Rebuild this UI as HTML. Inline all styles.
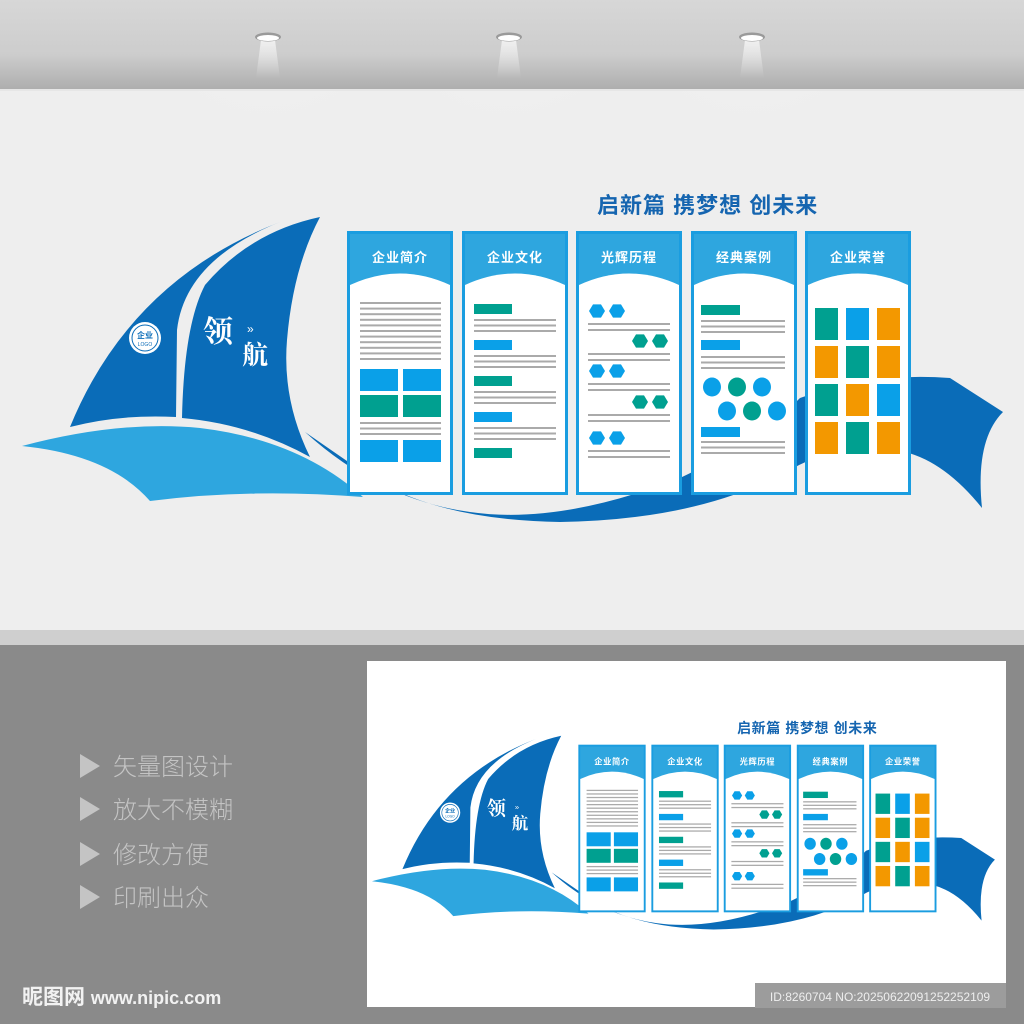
<!DOCTYPE html>
<html><head><meta charset="utf-8"><style>
html,body{margin:0;padding:0;width:1024px;height:1024px;overflow:hidden;background:#8a8a8a}
svg{display:block}
</style></head><body>
<svg id="s" width="1024" height="1024" viewBox="0 0 1024 1024" xmlns="http://www.w3.org/2000/svg" font-family="'Liberation Sans','Noto Sans CJK SC',sans-serif">
<defs>
<linearGradient id="ceil" x1="0" y1="0" x2="0" y2="1"><stop offset="0" stop-color="#d7d7d7"/><stop offset="0.6" stop-color="#cdcdcd"/><stop offset="1" stop-color="#adadad"/></linearGradient>
<linearGradient id="beam" x1="0" y1="0" x2="0" y2="1"><stop offset="0" stop-color="#fff" stop-opacity="0.7"/><stop offset="1" stop-color="#fff" stop-opacity="0"/></linearGradient>
<radialGradient id="glow" cx="0.5" cy="0" r="0.8"><stop offset="0" stop-color="#f7f7f7"/><stop offset="1" stop-color="#eeeeee" stop-opacity="0"/></radialGradient>
</defs>
<rect x="0" y="90" width="1024" height="540" fill="#eeeeee"/>
<ellipse cx="268" cy="90" rx="110" ry="110" fill="url(#glow)"/>
<ellipse cx="509" cy="90" rx="110" ry="110" fill="url(#glow)"/>
<ellipse cx="752" cy="90" rx="110" ry="110" fill="url(#glow)"/>
<rect x="0" y="0" width="1024" height="90" fill="url(#ceil)"/>
<rect x="0" y="89" width="1024" height="2" fill="#e6e6e6"/>
<g id="lamps"></g>
<rect x="0" y="630" width="1024" height="15" fill="#cfcfcf"/>
<rect x="0" y="645" width="1024" height="379" fill="#8a8a8a"/>
<rect x="367" y="661" width="639" height="346" fill="#ffffff"/>
<g id="top"></g>
<g id="bot" transform="translate(358,598) scale(0.635)"></g>
<g fill="#c4c4c4" font-family="'Liberation Sans','Noto Sans CJK SC',sans-serif" font-weight="300" font-size="24">
<polygon points="80,754 80,778 100,766"/><text x="113" y="775">矢量图设计</text>
<polygon points="80,797 80,821 100,809"/><text x="113" y="818">放大不模糊</text>
<polygon points="80,842 80,866 100,854"/><text x="113" y="863">修改方便</text>
<polygon points="80,885 80,909 100,897"/><text x="113" y="906">印刷出众</text>
</g>
<text x="22" y="1004" fill="#f2f2f2" font-size="21" font-weight="bold" font-family="'Liberation Sans','Noto Sans CJK SC',sans-serif">昵图网 <tspan font-size="18">www.nipic.com</tspan></text>
<rect x="755" y="983" width="251" height="25" fill="#9c9c9c"/>
<text x="880" y="1001" fill="#eeeeee" font-size="12" text-anchor="middle" font-family="'Liberation Sans',sans-serif">ID:8260704 NO:20250622091252252109</text>
</svg>
<script>
var L='';
[268,509,752].forEach(function(x){L+='<polygon points="'+(x-7)+',40 '+(x+7)+',40 '+(x+12)+',78 '+(x-12)+',78" fill="url(#beam)"/><ellipse cx="'+x+'" cy="37" rx="13" ry="4.5" fill="#9a9a9a"/><ellipse cx="'+x+'" cy="38" rx="11" ry="3" fill="#ffffff"/>';});
document.getElementById('lamps').innerHTML=L;
function design(){
var s='';
var DB='#0a6cb8',LB='#2ea6df',BL='#0aa0e8',TE='#00a090',OR='#f39800',GR='#aaaaaa';
s+='<path d="M305,432 Q380,500 470,512 Q560,525 680,478 Q760,440 800,398 Q870,372 950,378 L1003,412 Q975,440 982,508 Q945,462 905,452 Q840,440 790,470 Q700,520 560,522 Q430,520 360,470 Z" fill="'+DB+'"/>';
s+='<path d="M280,222 Q130,280 70,427 Q120,414 176,417 L177,330 Q185,260 280,222 Z" fill="'+DB+'"/>';
s+='<path d="M320,217 Q250,232 205,285 Q184,325 182,418 Q250,424 310,457 Q282,400 287,340 Q293,268 320,217 Z" fill="'+DB+'"/>';
s+='<path d="M22,446 Q120,420 200,428 Q300,440 363,497 Q250,488 150,501 Q110,455 22,446 Z" fill="'+LB+'"/>';
s+='<circle cx="145" cy="338" r="16" fill="#fff"/><circle cx="145" cy="338" r="13" fill="none" stroke="'+DB+'" stroke-width="1"/>';
s+='<text x="145" y="338" font-size="8" font-weight="bold" fill="'+DB+'" text-anchor="middle">企业</text><text x="145" y="346" font-size="5" fill="'+DB+'" text-anchor="middle">LOGO</text>';
s+='<text x="203" y="342" font-size="30" font-weight="bold" fill="#fff" font-family="\'Noto Serif CJK SC\',serif">领</text>';
s+='<text x="242" y="364" font-size="26" font-weight="bold" fill="#fff" font-family="\'Noto Serif CJK SC\',serif">航</text>';
s+='<text x="247" y="333" font-size="12" fill="#fff">»</text>';
s+='<text x="597" y="213" font-size="22" font-weight="bold" fill="#1565b0" letter-spacing="1" font-family="\'Liberation Sans\',\'Noto Sans CJK SC\',sans-serif">启新篇 携梦想 创未来</text>';
var xs=[347,462,576,691,805],tt=['企业简介','企业文化','光辉历程','经典案例','企业荣誉'];
function lines(x1,x2,y,n,g){var r='';for(var i=0;i<n;i++)r+='<rect x="'+x1+'" y="'+(y+i*(g||6))+'" width="'+(x2-x1)+'" height="2" fill="'+GR+'"/>';return r;}
function hex(cx,cy,c){var r=8,p=[];for(var i=0;i<6;i++){var a=Math.PI/3*i;p.push((cx+r*Math.cos(a)).toFixed(1)+','+(cy+r*Math.sin(a)*0.95).toFixed(1));}return '<polygon points="'+p.join(' ')+'" fill="'+c+'"/>';}
xs.forEach(function(x,i){
s+='<rect x="'+x+'" y="231" width="106" height="264" fill="#1a9de0"/>';
s+='<rect x="'+(x+3)+'" y="234" width="100" height="258" fill="'+LB+'"/>';
s+='<path d="M'+(x+3)+',285 Q'+(x+53)+',262 '+(x+103)+',285 L'+(x+103)+',492 L'+(x+3)+',492 Z" fill="#fff"/>';
s+='<text x="'+(x+53)+'" y="262" font-size="13" font-weight="bold" fill="#fff" text-anchor="middle" letter-spacing="1">'+tt[i]+'</text>';
var a=x+13,b=x+94;
if(i==0){s+=lines(a,b,302,11,5.6);
s+='<rect x="'+a+'" y="369" width="38" height="22" fill="'+BL+'"/><rect x="'+(a+43)+'" y="369" width="38" height="22" fill="'+BL+'"/>';
s+='<rect x="'+a+'" y="395" width="38" height="22" fill="'+TE+'"/><rect x="'+(a+43)+'" y="395" width="38" height="22" fill="'+TE+'"/>';
s+=lines(a,b,422,3,5.5);
s+='<rect x="'+a+'" y="440" width="38" height="22" fill="'+BL+'"/><rect x="'+(a+43)+'" y="440" width="38" height="22" fill="'+BL+'"/>';}
if(i==1){[[304,TE],[340,BL],[376,TE],[412,BL],[448,TE]].forEach(function(q,k){s+='<rect x="'+(x+12)+'" y="'+q[0]+'" width="38" height="10" fill="'+q[1]+'"/>';if(k<4)s+=lines(x+12,b,q[0]+15,3,5.5);});}
if(i==2){[[311,1,BL],[341,0,TE],[371,1,BL],[402,0,TE],[438,1,BL]].forEach(function(q){var cx=q[1]?x+21:x+64;s+=hex(cx,q[0],q[2])+hex(cx+20,q[0],q[2]);s+=lines(x+12,b,q[0]+12,2,6);});}
if(i==3){s+='<rect x="'+(x+10)+'" y="305" width="39" height="10" fill="'+TE+'"/>'+lines(x+10,b,320,3,5.5);
s+='<rect x="'+(x+10)+'" y="340" width="39" height="10" fill="'+BL+'"/>'+lines(x+10,b,356,3,5.5);
[[21,387,BL],[46,387,TE],[71,387,BL],[36,411,BL],[61,411,TE],[86,411,BL]].forEach(function(c){s+='<ellipse cx="'+(x+c[0])+'" cy="'+c[1]+'" rx="9" ry="9.5" fill="'+c[2]+'"/>';});
s+='<rect x="'+(x+10)+'" y="427" width="39" height="10" fill="'+BL+'"/>'+lines(x+10,b,441,3,5.5);}
if(i==4){var cols=[[TE,BL,OR],[OR,TE,OR],[TE,OR,BL],[OR,TE,OR]];cols.forEach(function(r,ri){r.forEach(function(c,ci){s+='<rect x="'+(x+10+ci*31)+'" y="'+(308+ri*38)+'" width="23" height="32" fill="'+c+'"/>';});});}
});
return s;}
var d=design();
document.getElementById('top').innerHTML=d;
document.getElementById('bot').innerHTML=d;
</script>
</body></html>
